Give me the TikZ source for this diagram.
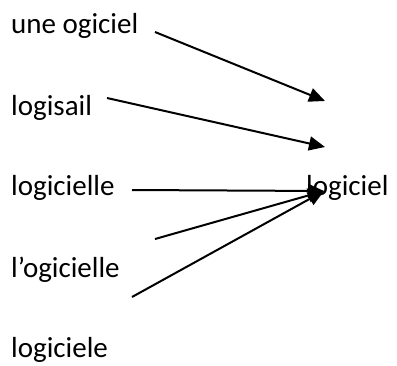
\documentclass[tikz,border=0pt]{standalone}
\usepackage{fontspec}
\setmainfont{Carlito}
\usetikzlibrary{arrows.meta}
\begin{document}
\begin{tikzpicture}[x=1pt,y=-1pt,
  word/.style={inner sep=0pt,anchor=base west,font=\fontsize{29}{31}\selectfont},
  link/.style={line width=2pt,-{Triangle[length=16pt,width=14pt]}}]
\useasboundingbox (0,0) rectangle (397,365);
% words on the left
\node[word] (w1) at (11,33)  {une ogiciel};
\node[word] (w2) at (11,115) {logisail};
\node[word] (w3) at (11,195) {logicielle};
\node[word] (w4) at (11,277) {l’ogicielle};
\node[word] (w5) at (11,357) {logiciele};
% target word
\node[word] (t)  at (306,195) {logiciel};
% arrow ends
\coordinate (s1) at (155,32);
\coordinate (s2) at (107,98);
\coordinate (s3) at (132,190);
\coordinate (s4) at (155,239);
\coordinate (s5) at (132,297);
\coordinate (e1) at (325,101);
\coordinate (e2) at (325,147);
\coordinate (e3) at (324,191);
\draw[link] (s1) -- (e1);
\draw[link] (s2) -- (e2);
\draw[link] (s3) -- (e3);
\draw[link] (s4) -- (e3);
\draw[link] (s5) -- (e3);
\end{tikzpicture}
\end{document}
